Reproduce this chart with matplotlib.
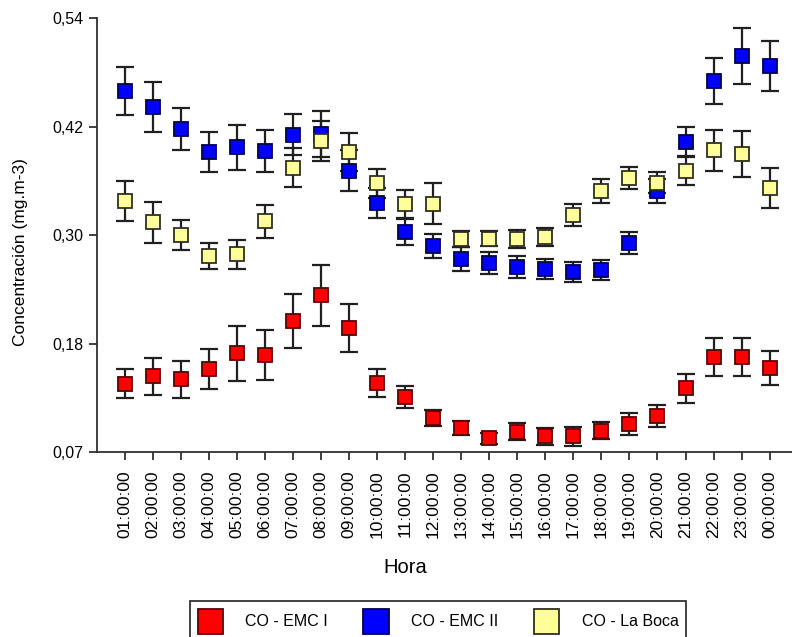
import numpy as np
import matplotlib
matplotlib.use('Agg')
import matplotlib.pyplot as plt
from matplotlib.patches import Patch

plt.rcParams['font.family'] = ['Liberation Sans', 'DejaVu Sans']

################## Datos #################
horas = ['01:00:00', '02:00:00', '03:00:00', '04:00:00', '05:00:00', '06:00:00',
         '07:00:00', '08:00:00', '09:00:00', '10:00:00', '11:00:00', '12:00:00',
         '13:00:00', '14:00:00', '15:00:00', '16:00:00', '17:00:00', '18:00:00',
         '19:00:00', '20:00:00', '21:00:00', '22:00:00', '23:00:00', '00:00:00']

emc1 = [0.144, 0.152, 0.149, 0.160, 0.177, 0.175, 0.212, 0.240, 0.204, 0.145, 0.130, 0.107,
        0.096, 0.085, 0.092, 0.087, 0.087, 0.093, 0.100, 0.109, 0.139, 0.173, 0.173, 0.161]
emc1_err = [0.016, 0.020, 0.020, 0.022, 0.030, 0.027, 0.029, 0.033, 0.026, 0.015, 0.012, 0.009,
            0.008, 0.006, 0.009, 0.009, 0.010, 0.009, 0.012, 0.012, 0.016, 0.021, 0.021, 0.018]

emc2 = [0.461, 0.444, 0.420, 0.395, 0.400, 0.396, 0.414, 0.415, 0.375, 0.340, 0.308, 0.293,
        0.279, 0.275, 0.270, 0.268, 0.265, 0.267, 0.296, 0.353, 0.406, 0.472, 0.499, 0.488]
emc2_err = [0.026, 0.027, 0.023, 0.022, 0.024, 0.023, 0.022, 0.025, 0.022, 0.016, 0.014, 0.013,
            0.013, 0.012, 0.012, 0.011, 0.011, 0.011, 0.012, 0.013, 0.016, 0.025, 0.030, 0.027]

boca = [0.342, 0.319, 0.305, 0.282, 0.284, 0.320, 0.378, 0.407, 0.395, 0.361, 0.339, 0.339,
        0.301, 0.301, 0.301, 0.303, 0.327, 0.353, 0.367, 0.362, 0.375, 0.397, 0.393, 0.356]
boca_err = [0.022, 0.022, 0.016, 0.014, 0.016, 0.018, 0.021, 0.022, 0.021, 0.016, 0.015, 0.022,
            0.009, 0.008, 0.010, 0.010, 0.012, 0.013, 0.012, 0.011, 0.016, 0.022, 0.025, 0.022]

series = [('CO - EMC I', emc1, emc1_err, '#ff0000', '#5a0000'),
          ('CO - EMC II', emc2, emc2_err, '#0000ff', '#000050'),
          ('CO - La Boca', boca, boca_err, '#ffff99', '#303020')]

fig = plt.figure(figsize=(7.92, 6.37), dpi=100)
ax = fig.add_axes([0.1225, 0.2904, 0.8775, 0.681])

x = np.arange(1, len(horas) + 1)
handles = []
for nombre, val, err, color, borde in series:
    ax.errorbar(x, val, yerr=err, fmt='none', ecolor='#202020', elinewidth=1.6,
                capsize=6.5, capthick=1.6, zorder=2)
    ax.plot(x, val, 's', markersize=10.5, markerfacecolor=color, markeredgecolor=borde,
            markeredgewidth=1.3, linestyle='none', zorder=3)
    handles.append(Patch(facecolor=color, edgecolor=borde, linewidth=1.3, label=nombre))

yt = np.linspace(0.07, 0.54, 5)
ax.set_ylim(0.07, 0.54)
ax.set_yticks(yt)
ax.set_yticklabels(['0,07', '0,18', '0,30', '0,42', '0,54'], fontsize=11.5)
ax.set_xlim(0, 24.8)
ax.set_xticks(x)
ax.set_xticklabels(horas, rotation=90, fontsize=12.5)
ax.tick_params(direction='out', length=6, width=1.3, color='#303030', pad=4)
ax.tick_params(axis='x', pad=7)

ax.spines['top'].set_visible(False)
ax.spines['right'].set_visible(False)
ax.spines['left'].set_linewidth(1.3)
ax.spines['bottom'].set_linewidth(1.3)
ax.spines['left'].set_color('#303030')
ax.spines['bottom'].set_color('#303030')

ax.set_xlabel('Hora', fontsize=14.5)
ax.xaxis.set_label_coords(0.443, -0.245)
ax.set_ylabel('Concentración (mg.m-3)', fontsize=12.5)
ax.yaxis.set_label_coords(-0.1, 0.46)

leg = fig.legend(handles=handles, loc='upper center', bbox_to_anchor=(0.553, 0.056),
                 ncol=3, fontsize=11.5, frameon=True, fancybox=False, edgecolor='black',
                 handlelength=1.6, handleheight=2.1, handletextpad=1.4, columnspacing=2.2,
                 borderpad=0.45, borderaxespad=0)
leg.get_frame().set_linewidth(1.3)

plt.savefig('out.png', dpi=100)
